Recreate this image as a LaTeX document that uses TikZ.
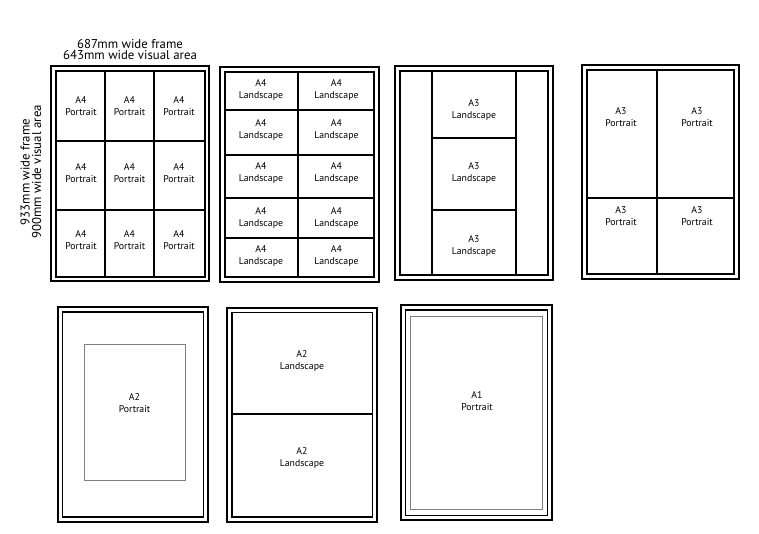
\documentclass[tikz,border=0pt]{standalone}
\usepackage{fontspec}
\setmainfont{PT Sans}
\begin{document}
\begin{tikzpicture}[x=1pt,y=-1pt,
  outerframe/.style={draw=black, line width=2.6pt},
  innerframe/.style={draw=black, line width=1.8pt},
  divider/.style={draw=black, line width=1.6pt},
  matline/.style={draw=gray, line width=0.8pt},
  lbl/.style={font=\fontsize{9.8}{12}\selectfont, align=center, inner sep=0pt},
  head/.style={font=\fontsize{12.8}{11.5}\selectfont, align=center, inner sep=0pt}]
\useasboundingbox[fill=white] (0,0) rectangle (759,533);

% headings
\node[head] (htop) at (130,49.5) {687mm wide frame\\643mm wide visual area};
\node[head, rotate=90] (hside) at (31,172) {933mm wide frame\\900mm wide visual area};

% ---------- Frame 1: 3x3 A4 portrait
\draw[outerframe] (51,66) rectangle (209,281);
\draw[innerframe] (56,71) rectangle (205,277);
\draw[divider] (105,71) -- (105,277) (154,71) -- (154,277);
\draw[divider] (56,141) -- (205,141) (56,210) -- (205,210);
\foreach \cx [count=\i] in {81,129.5,179}{
  \foreach \cy [count=\j] in {106,173,240}{
    \node[lbl] (fa\i\j) at (\cx,\cy) {A4\\Portrait};
  }
}

% ---------- Frame 2: 2x5 A4 landscape
\draw[outerframe] (220,67) rectangle (379,282);
\draw[innerframe] (225,72) rectangle (374,277);
\draw[divider] (298,72) -- (298,277);
\draw[divider] (225,110) -- (374,110) (225,155) -- (374,155) (225,198) -- (374,198) (225,238) -- (374,238);
\foreach \cx [count=\i] in {261,336.5}{
  \foreach \cy [count=\j] in {90,130,173,217.5,256}{
    \node[lbl] (fb\i\j) at (\cx,\cy) {A4\\Landscape};
  }
}

% ---------- Frame 3: 3 A3 landscape
\draw[outerframe] (395,66) rectangle (553,280);
\draw[innerframe] (400,71) rectangle (548,275);
\draw[divider] (432,71) -- (432,275) (516,71) -- (516,275);
\draw[divider] (432,138) -- (516,138) (432,210) -- (516,210);
\node[lbl] (fc1) at (474,110) {A3\\Landscape};
\node[lbl] (fc2) at (474,172.5) {A3\\Landscape};
\node[lbl] (fc3) at (474,246) {A3\\Landscape};

% ---------- Frame 4: 2x2 A3 portrait
\draw[outerframe] (582,65) rectangle (739,279);
\draw[innerframe] (587,70) rectangle (734,274);
\draw[divider] (657,70) -- (657,274);
\draw[divider] (587,198) -- (734,198);
\node[lbl] (fd11) at (621,117) {A3\\Portrait};
\node[lbl] (fd21) at (697,117) {A3\\Portrait};
\node[lbl] (fd12) at (621,216.5) {A3\\Portrait};
\node[lbl] (fd22) at (697,216.5) {A3\\Portrait};

% ---------- Frame 5: A2 portrait with mat
\draw[outerframe] (58,307) rectangle (208,522);
\draw[innerframe] (62.5,312) rectangle (203.5,517);
\draw[matline] (84,344) rectangle (185,480);
\node[lbl] (fe) at (134.5,403) {A2\\Portrait};

% ---------- Frame 6: 2 A2 landscape
\draw[outerframe] (227,308) rectangle (377,522);
\draw[innerframe] (232,312.5) rectangle (372.5,517);
\draw[divider] (232,414) -- (372.5,414);
\node[lbl] (ff1) at (302,360.5) {A2\\Landscape};
\node[lbl] (ff2) at (302,458) {A2\\Landscape};

% ---------- Frame 7: A1 portrait
\draw[outerframe] (401,305) rectangle (552,520);
\draw[innerframe] (405.5,310) rectangle (547.5,515.5);
\draw[matline] (410,316) rectangle (542,509);
\node[lbl] (fg) at (477,401.5) {A1\\Portrait};
\end{tikzpicture}
\end{document}
